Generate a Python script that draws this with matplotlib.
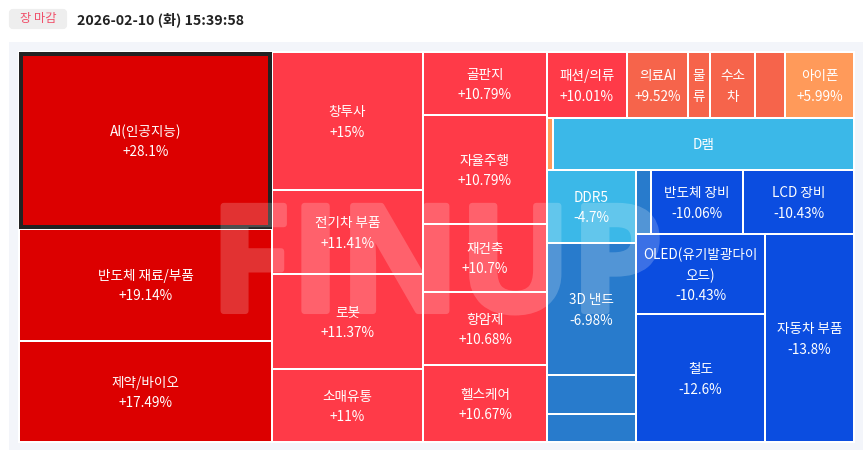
import matplotlib
matplotlib.use("Agg")
import matplotlib.pyplot as plt
import matplotlib.patheffects as pe
from matplotlib.patches import Rectangle, FancyBboxPatch

plt.rcParams['font.family'] = ['Noto Sans CJK KR', 'DejaVu Sans']

# treemap cells, column by column
names = ["AI(인공지능)", "반도체 재료/부품", "제약/바이오",
         "창투사", "전기차 부품", "로봇", "소매유통",
         "골판지", "자율주행", "재건축", "항암제", "헬스케어",
         "패션/의류", "의료AI", "물\n류", "수소\n차", "", "아이폰",
         "", "D램",
         "DDR5", "3D 낸드", "", "",
         "", "반도체 장비", "LCD 장비",
         "OLED(유기발광다이\n오드)", "철도", "자동차 부품"]
changes = [28.1, 19.14, 17.49,
           15, 11.41, 11.37, 11,
           10.79, 10.79, 10.7, 10.68, 10.67,
           10.01, 9.52, 9.0, 8.9, 8.5, 5.99,
           5.5, -3.0,
           -4.7, -6.98, -6.5, -6.0,
           -8.0, -10.06, -10.43,
           -10.43, -12.6, -13.8]
weights = [44655, 28463, 25553,
           20838, 12684, 14345, 11023,
           7812, 13454, 8494, 9052, 9548,
           5280, 4026, 1452, 2970, 1980, 4554,
           312, 15652,
           6497, 11748, 3471, 2492,
           960, 5888, 7104,
           10320, 16512, 18512]
# cells where the change is printed under the name
show_change = [True] * 3 + [True] * 4 + [True] * 5 \
    + [True, True, False, False, False, True] + [False, False] \
    + [True, True, False, False] + [False, True, True] + [True, True, True]

# how the cells nest: "x" splits sideways, "y" splits downwards
tree = ("x", [("y", [0, 1, 2]),
              ("y", [3, 4, 5, 6]),
              ("y", [7, 8, 9, 10, 11]),
              ("y", [("x", [12, 13, 14, 15, 16, 17]),
                     ("x", [18, 19]),
                     ("x", [("y", [20, 21, 22, 23]),
                            ("y", [("x", [24, 25, 26]),
                                   ("x", [("y", [27, 28]), 29])])])])])


def color_for(v):
    if v > 15:
        return "#dc0000"
    if v >= 10:
        return "#ff3a48"
    if v >= 6:
        return "#f6644b"
    if v > 0:
        return "#ff9a5a"
    if v > -5:
        return "#3bb8e8"
    if v > -10:
        return "#287bcc"
    return "#0b4de0"


def total(node):
    if isinstance(node, int):
        return weights[node]
    return sum(total(c) for c in node[1])


def layout(node, x, y, w, h, out):
    if isinstance(node, int):
        out[node] = (x, y, w, h)
        return
    sizes = [total(c) for c in node[1]]
    s = sum(sizes)
    for c, size in zip(node[1], sizes):
        if node[0] == "x":
            layout(c, x, y, w * size / s, h, out)
            x += w * size / s
        else:
            layout(c, x, y, w, h * size / s, out)
            y += h * size / s


def fade(im, dpi):
    # stroke and fill have to fade together, no darker seam between them
    im = im.copy()
    im[..., 3] *= 0.2
    return im, 0, 0


fig = plt.figure(figsize=(8.63, 4.5), dpi=100, facecolor="white")
ax = fig.add_axes([0, 0, 1, 1])
ax.set_xlim(0, 863)
ax.set_ylim(450, 0)
ax.axis("off")

# header
ax.add_patch(FancyBboxPatch((11, 11), 54, 16, boxstyle="round,pad=0,rounding_size=2",
                            fc="#eeeeee", ec="#eeeeee", lw=3))
ax.text(38, 18.5, "장 마감", color="#f0506a", fontsize=8.8, ha="center", va="center")
ax.text(77, 19.5, "2026-02-10 (화) 15:39:58", color="#222222", fontsize=10.2,
        fontweight="bold", ha="left", va="center")

# panel behind the map
ax.add_patch(Rectangle((9, 42), 854, 408, fc="#f3f5fa", ec="none"))

rects = {}
layout(tree, 19, 52, 835, 390, rects)
for i in range(len(names)):
    x, y, w, h = rects[i]
    ax.add_patch(Rectangle((x, y), w, h, fc=color_for(changes[i]), ec="white", lw=1.44))
    label = names[i]
    if show_change[i]:
        label += "\n%+g%%" % changes[i]
    if label:
        ax.text(x + w / 2, y + h / 2 + 1.5, label, color="white", fontsize=9.8,
                ha="center", va="center", linespacing=1.55)

# the first cell is the selected one
x, y, w, h = rects[0]
ax.add_patch(Rectangle((x + 2, y + 2), w - 4, h - 4, fc="none", ec="#222222", lw=2.88))

# watermark
wm = ax.text(437, 311, "FINUP", color="white", fontsize=106, fontweight="bold",
             family="Open Sans", ha="center", va="baseline")
wm.set_path_effects([pe.withStroke(linewidth=4.4, foreground="white")])
wm.set_agg_filter(fade)

fig.savefig("out.png", dpi=100)
